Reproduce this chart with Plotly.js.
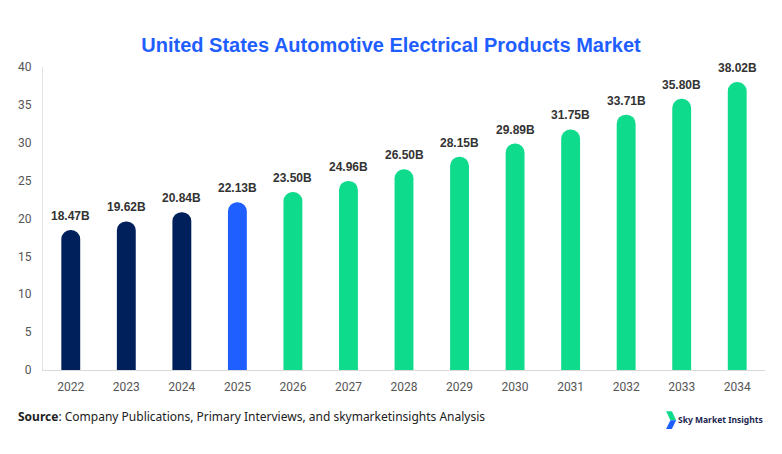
<!DOCTYPE html>
<html>
<head>
<meta charset="utf-8">
<script src="https://cdn.plot.ly/plotly-3.0.1.min.js"></script>
<style>
  html, body { margin: 0; padding: 0; background: #fff; }
  #chart { width: 782px; height: 454px; }
</style>
</head>
<body>
<div id="chart"></div>
<script>
var years = ['2022', '2023', '2024', '2025', '2026', '2027', '2028', '2029', '2030', '2031', '2032', '2033', '2034'];
var values = [18.47, 19.62, 20.84, 22.13, 23.50, 24.96, 26.50, 28.15, 29.89, 31.75, 33.71, 35.80, 38.02];
var yTicks = [0, 5, 10, 15, 20, 25, 30, 35, 40];

// history / base year / forecast
var barColors = years.map(function (y) {
  var n = parseInt(y, 10);
  if (n < 2025) return 'rgb(0,32,91)';
  if (n === 2025) return 'rgb(31,94,255)';
  return 'rgb(15,219,141)';
});

var data = [{
  x: years,
  y: values,
  type: 'bar',
  marker: { color: barColors, cornerradius: 10 },
  hoverinfo: 'x+y'
}];

// value labels sit a bit higher than plotly's own outside text
// (category axis -> annotation x is the category index)
var labels = years.map(function (y, i) {
  return {
    x: i, y: values[i],
    xref: 'x', yref: 'y',
    yanchor: 'bottom',
    yshift: 5,
    showarrow: false,
    text: values[i].toFixed(2) + 'B',
    font: { family: 'Liberation Sans, Arial', size: 12, color: '#333333', weight: 'bold' }
  };
});

var layout = {
  width: 782,
  height: 454,
  autosize: false,
  showlegend: false,
  paper_bgcolor: '#ffffff',
  plot_bgcolor: '#ffffff',
  bargap: 0.66,
  margin: { l: 43, r: 17, t: 67, b: 84 },
  title: {
    text: 'United States Automotive Electrical Products Market',
    x: 0.5,
    xanchor: 'center',
    y: 0.9,
    yanchor: 'middle',
    font: { family: 'Liberation Sans, Arial', size: 20, color: 'rgb(31,94,255)', weight: 'bold' }
  },
  xaxis: {
    type: 'category',
    range: [-0.5, years.length - 0.5],
    showline: true,
    linecolor: '#d9d9d9',
    linewidth: 1,
    showgrid: false,
    ticks: '',
    ticklabelstandoff: 6,
    tickfont: { family: 'Roboto, Arial', size: 12, color: '#555555' }
  },
  yaxis: {
    range: [0, 40],
    tickvals: yTicks,
    showline: true,
    linecolor: '#e3e3e3',
    linewidth: 1,
    showgrid: false,
    zeroline: false,
    ticks: '',
    ticklabelstandoff: 8,
    tickfont: { family: 'Roboto, Arial', size: 12, color: '#555555' }
  },
  annotations: labels.concat([
    {
      xref: 'paper', yref: 'paper',
      x: -0.0374, y: -0.152,
      xanchor: 'left', yanchor: 'middle',
      showarrow: false,
      text: '<b>Source</b>: Company Publications, Primary Interviews, and skymarketinsights Analysis',
      font: { family: 'Noto Sans', size: 12, color: '#222222' }
    },
    {
      xref: 'paper', yref: 'paper',
      x: 1.0, y: -0.165,
      xanchor: 'right', yanchor: 'middle',
      showarrow: false,
      text: '<b>Sky Market Insights</b>',
      font: { family: 'Noto Sans', size: 8.5, color: '#1a2550' }
    }
  ]),
  shapes: [
    {
      // logo, top half
      type: 'path', xref: 'paper', yref: 'paper',
      path: 'M 0.863,-0.136 L 0.871,-0.136 L 0.877,-0.166 L 0.869,-0.166 Z',
      fillcolor: 'rgb(15,219,141)',
      line: { width: 0 }
    },
    {
      // logo, bottom half
      type: 'path', xref: 'paper', yref: 'paper',
      path: 'M 0.869,-0.166 L 0.877,-0.166 L 0.871,-0.195 L 0.863,-0.195 Z',
      fillcolor: 'rgb(31,94,255)',
      line: { width: 0 }
    }
  ]
};

Plotly.newPlot('chart', data, layout, { displayModeBar: false, staticPlot: true });
</script>
</body>
</html>
